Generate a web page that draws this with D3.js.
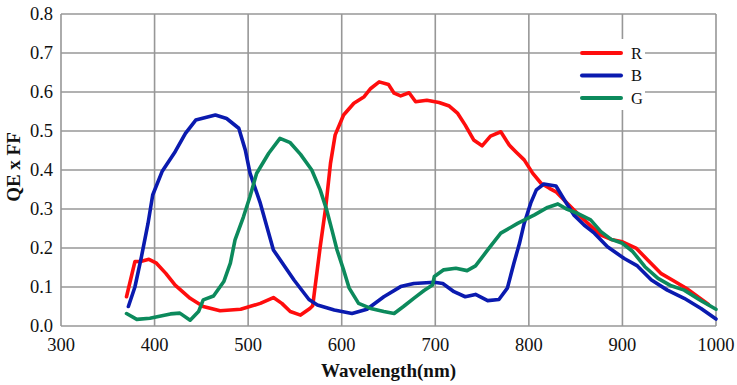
<!DOCTYPE html>
<html>
<head>
<meta charset="utf-8">
<script src="https://cdn.jsdelivr.net/npm/d3@7"></script>
<style>
  body { margin: 0; background: #fff; }
</style>
</head>
<body>
<svg id="chart" width="737" height="385"></svg>
<script>
const xTicks = [300, 400, 500, 600, 700, 800, 900, 1000];
const yTicks = [0, 0.1, 0.2, 0.3, 0.4, 0.5, 0.6, 0.7, 0.8];
const seriesNames = ["R", "B", "G"];

// [wavelength, QE x FF]
const red = [
  [370, 0.075], [379, 0.165], [386, 0.166], [394, 0.171], [402, 0.161], [412, 0.135],
  [422, 0.105], [438, 0.071], [452, 0.050], [470, 0.039], [492, 0.043], [513, 0.058],
  [527, 0.073], [536, 0.058], [545, 0.037], [556, 0.028], [566, 0.045], [569, 0.052],
  [572, 0.109], [577, 0.203], [583, 0.306], [588, 0.417], [593, 0.490], [602, 0.541],
  [613, 0.571], [624, 0.588], [631, 0.609], [640, 0.626], [650, 0.619], [656, 0.597],
  [663, 0.590], [672, 0.598], [679, 0.575], [691, 0.579], [704, 0.573], [715, 0.564],
  [724, 0.545], [732, 0.515], [741, 0.477], [750, 0.462], [759, 0.487], [770, 0.498],
  [779, 0.464], [786, 0.447], [795, 0.426], [804, 0.392], [813, 0.366], [822, 0.353],
  [829, 0.344], [841, 0.315], [859, 0.272], [877, 0.233], [888, 0.222], [900, 0.216],
  [915, 0.199], [927, 0.169], [941, 0.135], [956, 0.114], [970, 0.094], [988, 0.062],
  [992, 0.055]
];

const blue = [
  [372, 0.050], [379, 0.100], [386, 0.178], [393, 0.263], [398, 0.336], [408, 0.396],
  [422, 0.447], [433, 0.494], [444, 0.528], [465, 0.541], [477, 0.532], [490, 0.507],
  [497, 0.451], [502, 0.392], [513, 0.315], [527, 0.195], [549, 0.118], [565, 0.068],
  [574, 0.054], [592, 0.041], [611, 0.032], [627, 0.043], [645, 0.075], [663, 0.101],
  [677, 0.109], [699, 0.112], [708, 0.109], [720, 0.088], [732, 0.075], [743, 0.081],
  [756, 0.065], [768, 0.068], [777, 0.097], [784, 0.161], [790, 0.212], [795, 0.263],
  [802, 0.315], [808, 0.349], [816, 0.364], [829, 0.359], [838, 0.323], [848, 0.285],
  [859, 0.259], [870, 0.238], [884, 0.203], [902, 0.173], [916, 0.154], [931, 0.118],
  [948, 0.092], [966, 0.071], [984, 0.045], [1000, 0.018]
];

const green = [
  [370, 0.032], [381, 0.017], [395, 0.020], [417, 0.031], [427, 0.033], [438, 0.015],
  [447, 0.037], [452, 0.067], [463, 0.077], [474, 0.114], [481, 0.161], [486, 0.221],
  [495, 0.280], [502, 0.332], [509, 0.391], [522, 0.443], [534, 0.481], [545, 0.470],
  [556, 0.440], [568, 0.400], [577, 0.349], [584, 0.297], [590, 0.242], [595, 0.195],
  [602, 0.144], [608, 0.097], [618, 0.058], [631, 0.045], [645, 0.037], [656, 0.032],
  [666, 0.050], [677, 0.071], [688, 0.091], [697, 0.105], [699, 0.127], [709, 0.144],
  [722, 0.148], [734, 0.142], [743, 0.154], [756, 0.195], [770, 0.238], [788, 0.263],
  [806, 0.285], [820, 0.304], [831, 0.313], [841, 0.299], [852, 0.289], [866, 0.272],
  [877, 0.242], [888, 0.222], [900, 0.212], [911, 0.191], [924, 0.152], [938, 0.122],
  [952, 0.103], [966, 0.092], [984, 0.065], [1000, 0.043]
];

const seriesData = [red, blue, green];
const seriesColors = ["#ff0d0d", "#0a1aaf", "#0c8a5c"];

const font = "Liberation Serif";

const svg = d3.select("#chart"),
      margin = {top: 14, right: 21, bottom: 59, left: 61},
      width = +svg.attr("width"),
      height = +svg.attr("height");

const x = d3.scaleLinear().domain([300, 1000]).range([margin.left, width - margin.right]);
const y = d3.scaleLinear().domain([0, 0.8]).range([height - margin.bottom, margin.top]);

const gridColor = "#979797";

// grid
svg.append("g")
    .selectAll("line")
    .data(yTicks)
    .join("line")
    .attr("x1", x(300)).attr("x2", x(1000))
    .attr("y1", d => y(d)).attr("y2", d => y(d))
    .attr("stroke", gridColor).attr("stroke-width", 1.6);

svg.append("g")
    .selectAll("line")
    .data(xTicks)
    .join("line")
    .attr("x1", d => x(d)).attr("x2", d => x(d))
    .attr("y1", y(0)).attr("y2", y(0.8))
    .attr("stroke", gridColor).attr("stroke-width", 1.6);

// tick labels
svg.append("g")
    .selectAll("text")
    .data(yTicks)
    .join("text")
    .attr("x", x(300) - 8)
    .attr("y", d => y(d))
    .attr("dy", "0.35em")
    .attr("text-anchor", "end")
    .attr("font-family", font)
    .attr("font-size", 18.5)
    .attr("fill", "#111")
    .text(d => d3.format(".1f")(d));

svg.append("g")
    .selectAll("text")
    .data(xTicks)
    .join("text")
    .attr("x", d => x(d))
    .attr("y", y(0) + 25)
    .attr("text-anchor", "middle")
    .attr("font-family", font)
    .attr("font-size", 18.5)
    .attr("fill", "#111")
    .text(d => d);

// axis titles
svg.append("text")
    .attr("x", (x(300) + x(1000)) / 2)
    .attr("y", 377)
    .attr("text-anchor", "middle")
    .attr("font-family", font)
    .attr("font-size", 19)
    .attr("font-weight", "bold")
    .attr("fill", "#111")
    .text("Wavelength(nm)");

svg.append("text")
    .attr("transform", "rotate(-90)")
    .attr("x", -167)
    .attr("y", 20)
    .attr("text-anchor", "middle")
    .attr("font-family", font)
    .attr("font-size", 19)
    .attr("font-weight", "bold")
    .attr("fill", "#111")
    .text("QE x FF");

// curves
const line = d3.line()
    .x(d => x(d[0]))
    .y(d => y(d[1]));

seriesData.forEach((s, i) => {
    svg.append("path")
        .datum(s)
        .attr("d", line)
        .attr("fill", "none")
        .attr("stroke", seriesColors[i])
        .attr("stroke-width", 3.6)
        .attr("stroke-linejoin", "round")
        .attr("stroke-linecap", "round");
});

// legend
const legend = svg.append("g").attr("transform", "translate(580,39)");
legend.append("rect")
    .attr("width", 65).attr("height", 71)
    .attr("fill", "#fff");

seriesNames.forEach((name, i) => {
    const ly = 14 + i * 22.5;
    legend.append("line")
        .attr("x1", 2).attr("x2", 41)
        .attr("y1", ly).attr("y2", ly)
        .attr("stroke", seriesColors[i])
        .attr("stroke-width", 4)
        .attr("stroke-linecap", "round");
    legend.append("text")
        .attr("x", 51)
        .attr("y", ly)
        .attr("dy", "0.35em")
        .attr("font-family", font)
        .attr("font-size", 16.5)
        .attr("fill", "#111")
        .text(name);
});
</script>
</body>
</html>
